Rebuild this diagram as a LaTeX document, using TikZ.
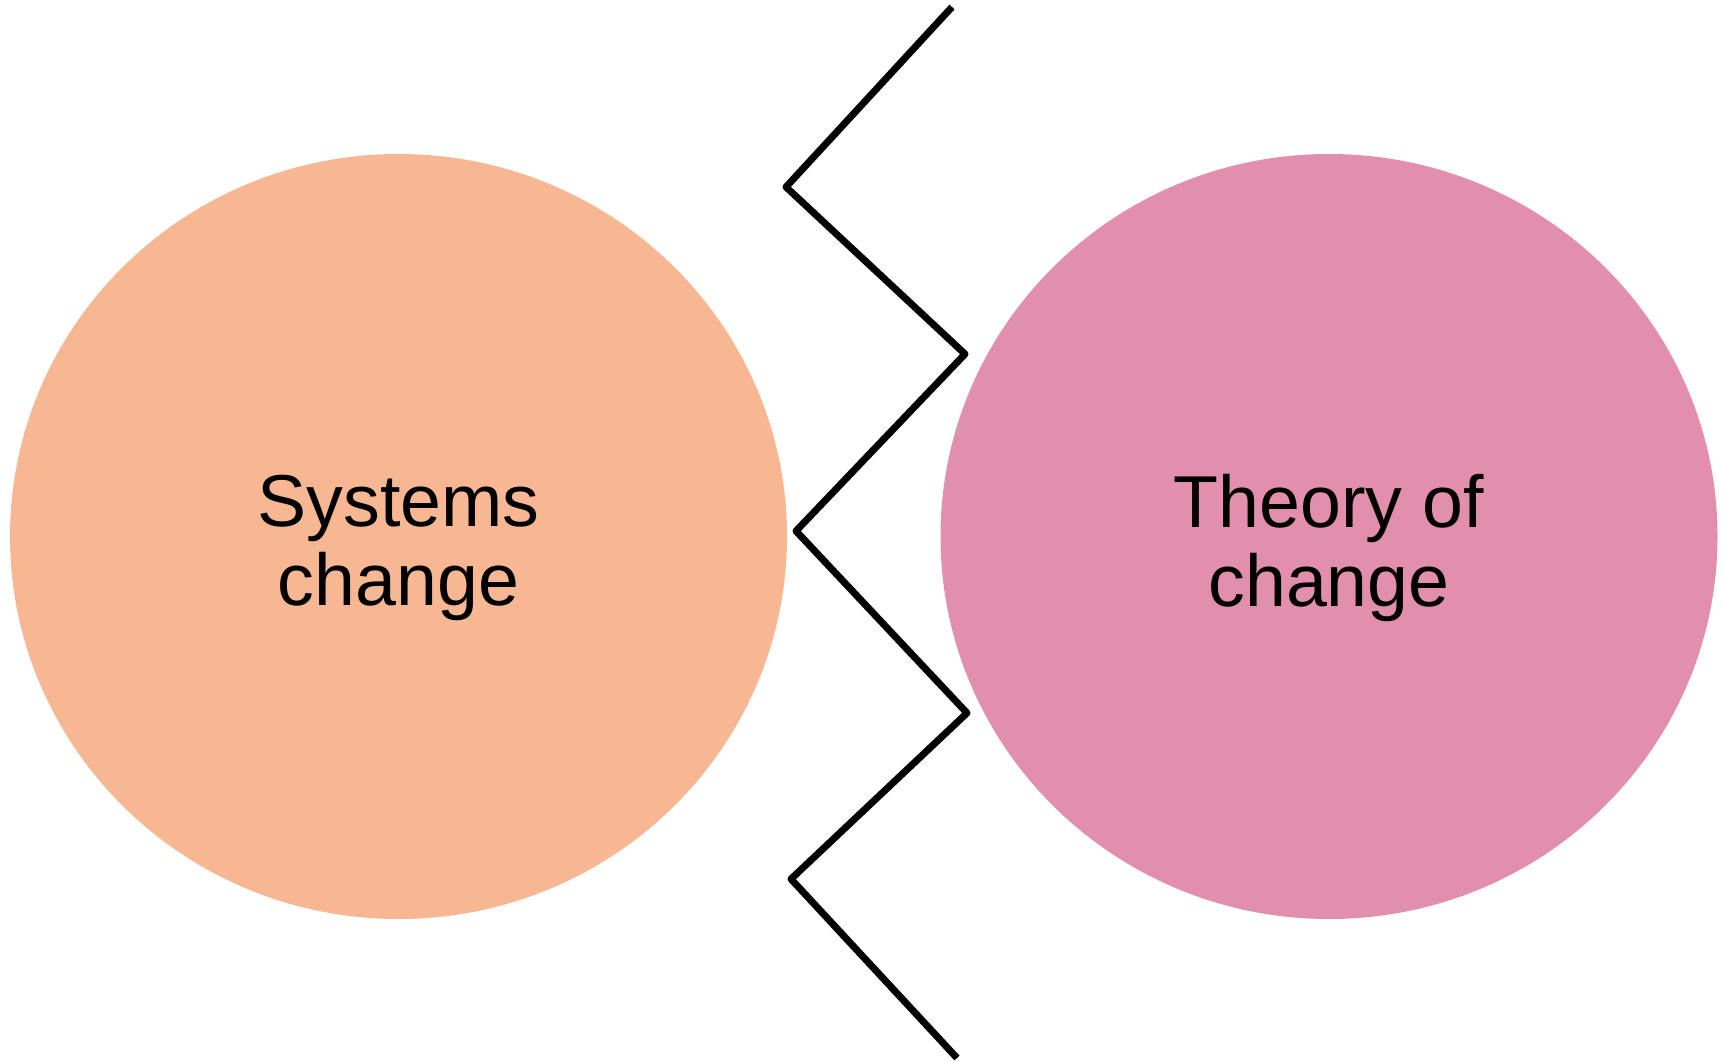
\documentclass[tikz,border=0pt]{standalone}
\usepackage{fontspec}
\setmainfont{Liberation Sans}
\usepackage{tikz}
\usetikzlibrary{shapes.geometric}

\definecolor{sysorange}{HTML}{F8B793}
\definecolor{tocpink}{HTML}{E28FAD}

\begin{document}
\begin{tikzpicture}[x=1pt,y=-1pt,
	bubble/.style={ellipse,minimum width=777pt,minimum height=765pt,inner sep=0pt},
	caption/.style={align=center,font=\fontsize{73.5}{79.5}\selectfont}]
		\useasboundingbox (0,0) rectangle (1723,1061);
		%
		\node[bubble,fill=sysorange] (sys) at (398.5,536.5) {};
		\node[bubble,fill=tocpink] (toc) at (1329,536.5) {};
		%
		\node[caption] (syslabel) at (398.5,548) {Systems\\change};
		\node[caption] (toclabel) at (1329,548) {Theory of\\change};
		%
		\draw[line width=7pt,line join=round]
		(952,7) -- (786,187) -- (965,354) -- (796,531)
		-- (967,713) -- (791,879) -- (957,1058);
	\end{tikzpicture}
\end{document}
